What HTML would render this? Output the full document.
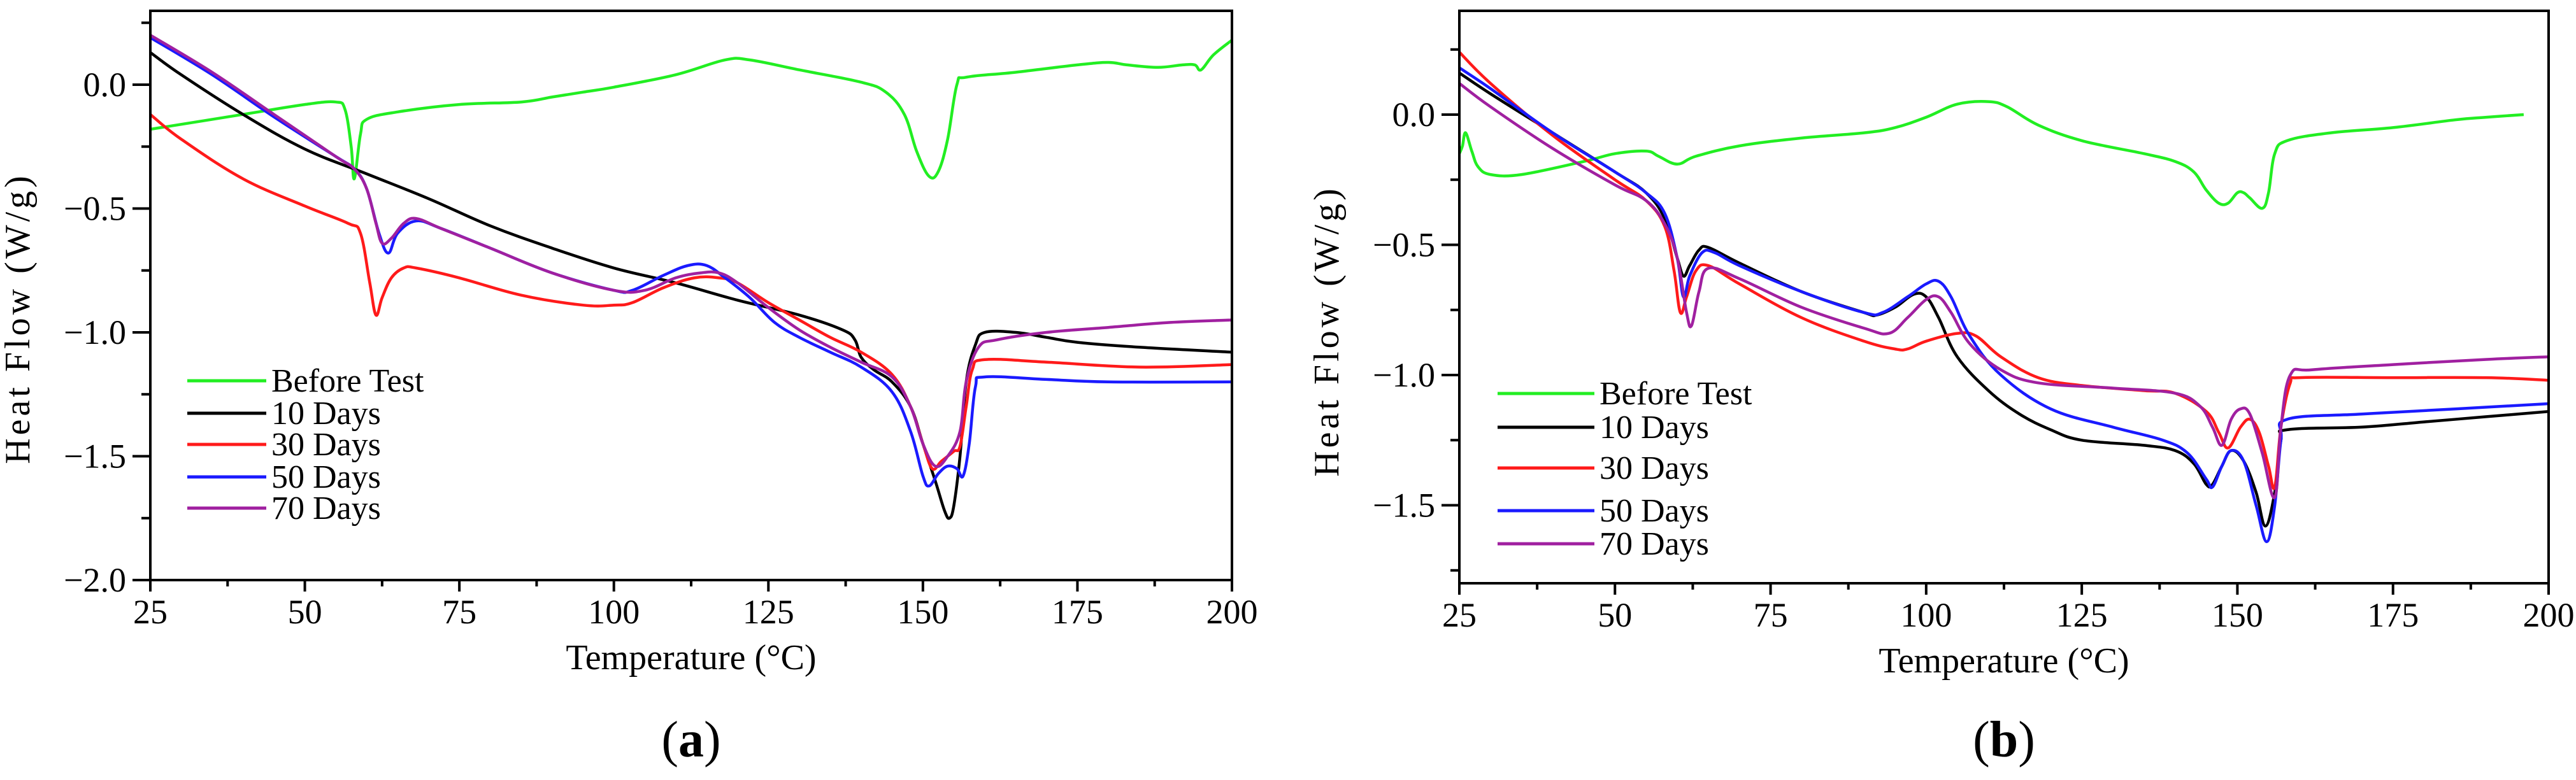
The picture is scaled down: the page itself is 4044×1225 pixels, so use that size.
<!DOCTYPE html>
<html><head><meta charset="utf-8"><style>
html,body{margin:0;padding:0;background:#fff;}
svg{display:block;font-family:"Liberation Serif",serif;}
</style></head><body>
<svg id="fig" width="4044" height="1225" viewBox="0 0 4044 1225" xmlns="http://www.w3.org/2000/svg"></svg>
<script>
// ---- Panel (a) data ----
const seriesNames = ["Before Test","10 Days","30 Days","50 Days","70 Days"];
const seriesColors = ["#22ee22","#000000","#ff1a1a","#1a1aff","#a020a0"];
const xTicks = [25,50,75,100,125,150,175,200];
const aYTicks = [0.0,-0.5,-1.0,-1.5,-2.0];
const bYTicks = [0.0,-0.5,-1.0,-1.5];
const aGreen = [[25,-0.18],[40,-0.12],[50,-0.08],[55,-0.07],[56.5,-0.10],[57.5,-0.25],[58,-0.38],[59,-0.2],[60,-0.14],[65,-0.11],[75,-0.08],[85,-0.07],[90,-0.05],[95,-0.03],[100,-0.01],[110,0.04],[118,0.1],[122,0.1],[130,0.06],[140,0.01],[144,-0.03],[147,-0.12],[149,-0.27],[151,-0.37],[152.5,-0.35],[154,-0.22],[155.5,0.0],[157,0.03],[165,0.05],[175,0.08],[180,0.09],[183,0.08],[188,0.07],[192,0.08],[194,0.08],[195,0.06],[197,0.12],[200,0.18]];
const aBlack = [[25,0.13],[30,0.04],[40,-0.12],[50,-0.26],[60,-0.36],[70,-0.46],[80,-0.57],[90,-0.66],[100,-0.74],[110,-0.8],[120,-0.87],[130,-0.93],[137,-0.99],[139,-1.03],[140,-1.1],[142,-1.15],[145,-1.2],[148,-1.3],[150,-1.45],[152,-1.6],[153.5,-1.72],[154.3,-1.75],[155,-1.7],[156,-1.5],[157,-1.2],[158.5,-1.05],[160,-1.0],[165,-1.0],[170,-1.02],[175,-1.04],[185,-1.06],[200,-1.08]];
const aRed = [[25,-0.12],[30,-0.22],[40,-0.38],[50,-0.49],[57,-0.56],[59,-0.6],[60.5,-0.8],[61.5,-0.93],[62.5,-0.86],[64,-0.78],[66,-0.74],[68,-0.74],[75,-0.78],[85,-0.85],[95,-0.89],[100,-0.89],[103,-0.88],[108,-0.82],[113,-0.78],[117,-0.78],[120,-0.8],[125,-0.88],[130,-0.95],[135,-1.02],[140,-1.08],[145,-1.17],[148,-1.3],[150,-1.45],[151.5,-1.55],[153,-1.52],[155,-1.48],[156,-1.46],[157,-1.3],[158,-1.15],[160,-1.11],[170,-1.12],[185,-1.14],[200,-1.13]];
const aBlue = [[25,0.19],[35,0.04],[45,-0.13],[55,-0.29],[58,-0.34],[60,-0.42],[62,-0.6],[63.5,-0.68],[65,-0.6],[68,-0.55],[72,-0.58],[80,-0.66],[90,-0.76],[100,-0.83],[103,-0.83],[108,-0.77],[112,-0.73],[115,-0.73],[118,-0.78],[122,-0.86],[126,-0.96],[130,-1.02],[135,-1.08],[140,-1.14],[145,-1.24],[148,-1.4],[150,-1.58],[151,-1.62],[152.5,-1.57],[154,-1.54],[155.5,-1.55],[156.5,-1.58],[157.5,-1.45],[158.5,-1.22],[160,-1.18],[170,-1.19],[180,-1.2],[200,-1.2]];
const aPurple = [[25,0.2],[35,0.05],[45,-0.12],[55,-0.29],[58,-0.34],[60,-0.42],[61.5,-0.56],[62.5,-0.64],[64,-0.62],[66,-0.56],[68,-0.54],[72,-0.58],[80,-0.66],[90,-0.76],[100,-0.83],[105,-0.83],[110,-0.78],[114,-0.76],[117,-0.76],[120,-0.8],[125,-0.9],[130,-0.99],[135,-1.06],[140,-1.12],[145,-1.18],[148,-1.3],[150,-1.45],[152,-1.54],[154,-1.5],[156,-1.4],[157,-1.2],[159,-1.06],[162,-1.03],[170,-1.0],[180,-0.98],[190,-0.96],[200,-0.95]];
// ---- Panel (b) data ----
const bGreen = [[25,-0.15],[25.5,-0.12],[26,-0.07],[27,-0.14],[28,-0.2],[30,-0.23],[35,-0.23],[45,-0.18],[50,-0.15],[55,-0.14],[57,-0.16],[60,-0.19],[63,-0.16],[70,-0.12],[80,-0.09],[90,-0.07],[95,-0.05],[100,-0.01],[105,0.04],[110,0.05],[113,0.03],[118,-0.04],[125,-0.1],[135,-0.15],[140,-0.18],[143,-0.22],[145,-0.29],[147,-0.34],[148.5,-0.34],[150,-0.3],[151,-0.3],[152,-0.32],[154,-0.36],[155,-0.3],[156,-0.15],[158,-0.1],[165,-0.07],[175,-0.05],[185,-0.02],[190,-0.01],[196,0.0]];
const bBlack = [[25,0.16],[30,0.08],[40,-0.07],[50,-0.22],[55,-0.3],[58,-0.4],[60,-0.55],[61,-0.62],[62,-0.58],[63.5,-0.52],[65,-0.51],[70,-0.57],[80,-0.68],[90,-0.76],[92,-0.77],[95,-0.74],[98,-0.69],[100,-0.7],[102,-0.78],[105,-0.93],[110,-1.06],[115,-1.15],[120,-1.21],[125,-1.25],[135,-1.27],[140,-1.29],[143,-1.34],[145,-1.42],[146,-1.42],[147.5,-1.35],[149,-1.29],[151,-1.33],[153,-1.45],[154.5,-1.58],[156,-1.45],[157,-1.25],[158,-1.21],[170,-1.2],[180,-1.18],[190,-1.16],[200,-1.14]];
const bRed = [[25,0.24],[30,0.12],[40,-0.08],[50,-0.25],[55,-0.33],[58,-0.43],[59.5,-0.6],[60.5,-0.76],[61.5,-0.7],[63,-0.6],[65,-0.58],[70,-0.65],[80,-0.78],[90,-0.87],[95,-0.9],[97,-0.9],[100,-0.87],[105,-0.84],[108,-0.85],[112,-0.93],[118,-1.01],[125,-1.04],[135,-1.06],[140,-1.07],[145,-1.14],[147,-1.22],[148.5,-1.28],[150.5,-1.2],[152,-1.17],[153.5,-1.22],[155,-1.35],[156,-1.43],[157,-1.2],[158.5,-1.03],[160,-1.01],[175,-1.01],[190,-1.01],[200,-1.02]];
const bBlue = [[25,0.18],[30,0.1],[40,-0.07],[50,-0.22],[55,-0.3],[58,-0.38],[60,-0.55],[61,-0.7],[62,-0.62],[64,-0.53],[66,-0.53],[70,-0.58],[80,-0.68],[90,-0.76],[93,-0.76],[97,-0.7],[100,-0.65],[102,-0.64],[104,-0.7],[107,-0.85],[112,-1.0],[120,-1.13],[130,-1.2],[138,-1.25],[142,-1.3],[145,-1.4],[146,-1.43],[147.5,-1.35],[149,-1.29],[151,-1.33],[153,-1.5],[154.7,-1.64],[156,-1.5],[157,-1.25],[158,-1.17],[170,-1.15],[185,-1.13],[200,-1.11]];
const bPurple = [[25,0.12],[30,0.03],[40,-0.13],[50,-0.27],[55,-0.33],[58,-0.42],[60,-0.55],[61.5,-0.76],[62.3,-0.81],[63.5,-0.68],[65,-0.59],[70,-0.63],[80,-0.74],[90,-0.82],[94,-0.84],[97,-0.78],[100,-0.71],[102,-0.7],[104,-0.76],[107,-0.88],[112,-0.98],[118,-1.03],[130,-1.05],[140,-1.07],[144,-1.12],[146,-1.2],[147.5,-1.27],[149,-1.17],[150.5,-1.13],[152,-1.15],[154,-1.3],[156,-1.47],[157,-1.2],[158.5,-1.0],[162,-0.98],[175,-0.96],[190,-0.94],[200,-0.93]];

const NS="http://www.w3.org/2000/svg";
const svg=document.getElementById('fig');
function mk(tag,attrs,parent){const e=document.createElementNS(NS,tag);for(const k in attrs)e.setAttribute(k,attrs[k]);(parent||svg).appendChild(e);return e;}
function smooth(pts){let d="M"+pts[0][0].toFixed(1)+","+pts[0][1].toFixed(1);for(let i=0;i<pts.length-1;i++){const p0=pts[i-1]||pts[i],p1=pts[i],p2=pts[i+1],p3=pts[i+2]||p2;const t=0.18;const c1=[p1[0]+(p2[0]-p0[0])*t,p1[1]+(p2[1]-p0[1])*t];const c2=[p2[0]-(p3[0]-p1[0])*t,p2[1]-(p3[1]-p1[1])*t];d+=" C"+c1[0].toFixed(1)+","+c1[1].toFixed(1)+" "+c2[0].toFixed(1)+","+c2[1].toFixed(1)+" "+p2[0].toFixed(1)+","+p2[1].toFixed(1);}return d;}

function panel(cfg){
  const g=mk('g',{});
  
  
  const X=v=>cfg.x0+(v-25)/175*(cfg.x1-cfg.x0);
  const Y=v=>cfg.y0-v*cfg.ppu;
  cfg.series.forEach((s,i)=>{
    const p=mk('path',{d:smooth(s.map(q=>[X(q[0]),Y(q[1])])),fill:'none',stroke:seriesColors[i],'stroke-width':4.5,'stroke-linejoin':'round'},g);
    
    
  });
  const fr=mk('rect',{x:cfg.x0,y:cfg.top,width:cfg.x1-cfg.x0,height:cfg.bottom-cfg.top,fill:'none',stroke:'#000','stroke-width':4},g);
  
  
  xTicks.forEach(t=>{
    mk('line',{x1:X(t),x2:X(t),y1:cfg.bottom,y2:cfg.bottom+18,stroke:'#000','stroke-width':4},g);
    if(t<200) mk('line',{x1:X(t+12.5),x2:X(t+12.5),y1:cfg.bottom,y2:cfg.bottom+10,stroke:'#000','stroke-width':4},g);
    const tx=mk('text',{x:X(t),y:cfg.bottom+68,'font-size':54,'text-anchor':'middle',fill:'#000'},g);
    tx.textContent=t;
    
    
  });
  for(let v=cfg.ymin;v<=cfg.ymax+1e-9;v+=0.25){
    const major=Math.abs(Math.round(v*2)-v*2)<1e-6;
    mk('line',{x1:cfg.x0-(major?28:14),x2:cfg.x0,y1:Y(v),y2:Y(v),stroke:'#000','stroke-width':4},g);
  }
  cfg.yTicks.forEach(t=>{
    const tx=mk('text',{x:cfg.x0-38,y:Y(t)+18,'font-size':54,'text-anchor':'end',fill:'#000'},g);
    tx.textContent=t===0?"0.0":"\u2212"+Math.abs(t).toFixed(1);
    
    
  });
  const xt=mk('text',{x:(cfg.x0+cfg.x1)/2,y:cfg.bottom+140,'font-size':56,'text-anchor':'middle',fill:'#000'},g);
  xt.textContent="Temperature (\u00B0C)";
  
  
  const yt=mk('text',{x:0,y:0,'font-size':56,'letter-spacing':5,'text-anchor':'middle',fill:'#000',transform:`translate(${cfg.x0-190},${cfg.ytY}) rotate(-90)`},g);
  yt.textContent="Heat Flow (W/g)";
  
  
  cfg.legY.forEach((ly,i)=>{
    const lg=mk('g',{},g);
    
    
    mk('line',{x1:cfg.legX,x2:cfg.legX+cfg.legW,y1:ly,y2:ly,stroke:seriesColors[i],'stroke-width':5},lg);
    const t=mk('text',{x:cfg.legX+cfg.legW+8,y:ly+17,'font-size':52,fill:'#000'},lg);
    t.textContent=seriesNames[i];
  });
  const pl=mk('text',{x:(cfg.x0+cfg.x1)/2,y:1188,'font-size':80,'text-anchor':'middle',fill:'#000'},g);
  pl.innerHTML='(<tspan font-weight="bold">'+cfg.label+'</tspan>)';
  
  
}

panel({name:'panel-a',prefix:'a',x0:236,x1:1934,top:17,bottom:911,y0:133,ppu:389,ymin:-2.0,ymax:0.25,yTicks:aYTicks,
  series:[aGreen,aBlack,aRed,aBlue,aPurple],legX:294,legW:124,legY:[598,649,698,749,798],label:'a',ytY:500});
panel({name:'panel-b',prefix:'b',x0:2291,x1:4001,top:17,bottom:916,y0:180,ppu:409,ymin:-1.75,ymax:0.25,yTicks:bYTicks,
  series:[bGreen,bBlack,bRed,bBlue,bPurple],legX:2351,legW:152,legY:[618,671,735,802,854],label:'b',ytY:520});
</script>
</body></html>
